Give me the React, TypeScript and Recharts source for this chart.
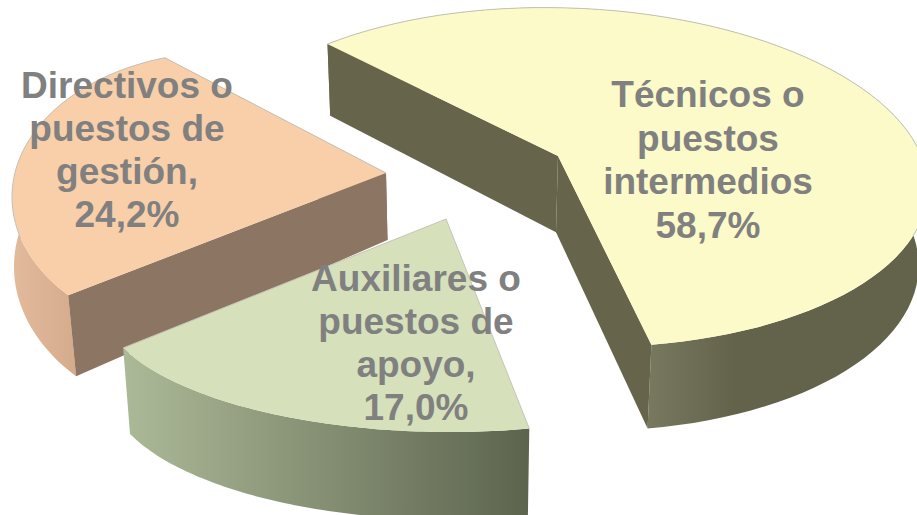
import { PieChart, Pie } from 'recharts'

const categories = ['Técnicos o puestos intermedios', 'Directivos o puestos de gestión', 'Auxiliares o puestos de apoyo']
const shares = [58.7, 24.2, 17.0]
const labelLines = [
  ['Técnicos o', 'puestos', 'intermedios'],
  ['Directivos o', 'puestos de', 'gestión,'],
  ['Auxiliares o', 'puestos de', 'apoyo,'],
]

const tableData = categories.map((name, i) => ({ name, value: shares[i] }))

// perspective of each exploded slice: ellipse of the top face, apex and wall depth
const sliceGeometry = [
  {
    apex: [558, 156], cx: 568, cy: 177.4, rx: 360, ry: 169.5, shear: 0.03, t0: 76.6, stretch: 0.9857,
    depth: [70, 0.04], pull: [0, 0], showInner: true, edgeFirst: false, edgeLast: false,
    top: '#fbfac8', inner: '#66654b', wallFrom: '#78785f', wallTo: '#63624a', wallX: [650, 735],
  },
  {
    apex: [386, 173], cx: 224, cy: 197, rx: 212, ry: 145, shear: 0, t0: 253.8, stretch: 1.336,
    depth: [47, 0.115], pull: [68, 0.125], showInner: true, edgeFirst: true, edgeLast: false,
    top: '#f8cfa9', inner: '#8c7562', wallFrom: '#e2bb9c', wallTo: '#d5ab8c', wallX: [12, 76],
  },
  {
    apex: [446, 219], cx: 450, cy: 301, rx: 350, ry: 131, shear: 0, t0: 159, stretch: 1.34,
    depth: [79, 0.02], pull: [0, 0], showInner: false, edgeFirst: true, edgeLast: true,
    top: '#d6e0bb', inner: '#5d654f', wallFrom: '#acb997', wallTo: '#5c644e', wallX: [125, 528],
  },
]

const labelSpots = [
  { x: 708, y: 107, pitch: 43.5 },
  { x: 127, y: 98, pitch: 43 },
  { x: 416, y: 291, pitch: 43 },
]

const RAD = Math.PI / 180

function rimPoint(g: any, t: number) {
  const ex = g.rx * Math.cos(t * RAD)
  const ey = g.ry * Math.sin(t * RAD)
  return [g.cx + ex, g.cy + ey + g.shear * ex]
}

function dropPoint(g: any, p: number[]) {
  const pull = Math.max(0, g.pull[0] - p[0]) * g.pull[1]
  return [p[0] + (460 - p[0]) * 0.02 - pull, p[1] + g.depth[0] + g.depth[1] * p[1]]
}

const toLine = (pts: number[][]) =>
  'M' + pts.map(p => `${p[0].toFixed(1)},${p[1].toFixed(1)}`).join('L')
const toPath = (pts: number[][]) => toLine(pts) + 'Z'

function Slice(props: any) {
  const i = categories.indexOf(props.name)
  const g = sliceGeometry[i]
  const sweep = props.endAngle - props.startAngle
  const angles: number[] = []
  for (let k = 0; k <= 80; k++) {
    angles.push(g.t0 - (sweep * k / 80) * g.stretch)
  }
  const rim = angles.map(t => rimPoint(g, t))
  const drop = rim.map(p => dropPoint(g, p))
  const apexDrop = dropPoint(g, g.apex)
  const first = rim[0]
  const last = rim[rim.length - 1]
  const backRim = rim.filter((_, k) => Math.sin(angles[k] * RAD) < 0.3)
  const gradId = `wall-${i}`
  return (
    <g>
      <defs>
        <linearGradient id={gradId} gradientUnits="userSpaceOnUse" x1={g.wallX[0]} y1={0} x2={g.wallX[1]} y2={0}>
          <stop offset="0%" stopColor={g.wallFrom} />
          <stop offset="100%" stopColor={g.wallTo} />
        </linearGradient>
      </defs>
      <path d={toPath([...rim, ...[...drop].reverse()])} fill={`url(#${gradId})`} />
      {g.showInner && <path d={toPath([g.apex, first, drop[0], apexDrop])} fill={g.inner} />}
      {g.showInner && <path d={toPath([g.apex, last, drop[drop.length - 1], apexDrop])} fill={g.inner} />}
      <path d={toPath([g.apex, ...rim])} fill={g.top} />
      {backRim.length > 1 && <path d={toLine(backRim)} fill="none" stroke="#c4c4b8" strokeWidth={1} />}
      {g.edgeFirst && <path d={toLine([g.apex, first])} fill="none" stroke="#c4c4b8" strokeWidth={1} />}
      {g.edgeLast && <path d={toLine([g.apex, last])} fill="none" stroke="#c4c4b8" strokeWidth={1} />}
    </g>
  )
}

function SliceLabel(props: any) {
  const i = categories.indexOf(props.name)
  const spot = labelSpots[i]
  const lines = [...labelLines[i], `${shares[i].toFixed(1).replace('.', ',')}%`]
  return (
    <text textAnchor="middle" fontFamily="Liberation Sans" fontWeight="bold" fontSize={37} fill="#808080">
      {lines.map((line, k) => (
        <tspan key={line} x={spot.x} y={spot.y + k * spot.pitch}>{line}</tspan>
      ))}
    </text>
  )
}

export default function App() {
  return (
    <div style={{ position: 'fixed', left: 0, top: 0, width: 917, height: 515, overflow: 'hidden', background: '#fff' }}>
      <PieChart width={917} height={515} margin={{ top: 0, right: 0, bottom: 0, left: 0 }}>
        <Pie
          data={tableData}
          dataKey="value"
          nameKey="name"
          cx={458}
          cy={257}
          outerRadius={200}
          startAngle={-60}
          endAngle={300}
          shape={Slice}
          label={SliceLabel}
          labelLine={false}
          isAnimationActive={false}
        />
      </PieChart>
    </div>
  )
}
